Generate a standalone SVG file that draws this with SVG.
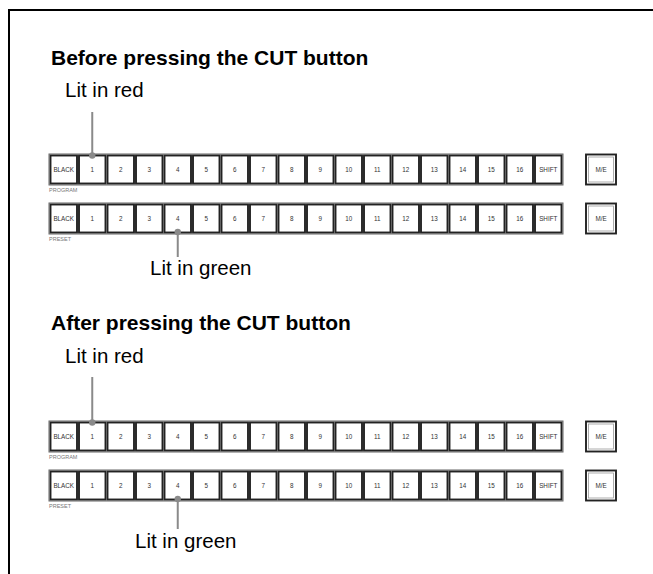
<svg xmlns="http://www.w3.org/2000/svg" width="653" height="574" viewBox="0 0 653 574">
<style>
.frame{fill:none;stroke:#000;stroke-width:2}
.row{fill:#fff;stroke:#666;stroke-width:1}
.btn{fill:#fff;stroke:#222;stroke-width:1.9}
.me-in{fill:none;stroke:#999;stroke-width:0.8}
.bl{font-family:"Liberation Sans",Arial,sans-serif;font-size:6.3px;fill:#333;text-anchor:middle}
.small{font-family:"Liberation Sans",Arial,sans-serif;font-size:5.5px;fill:#777}
.head{font-family:"Liberation Sans",Arial,sans-serif;font-size:21px;font-weight:bold;fill:#000}
.lab{font-family:"Liberation Sans",Arial,sans-serif;font-size:20.5px;fill:#000}
.lead{stroke:#8a8a8a;stroke-width:2;fill:none}
.dot{fill:#8a8a8a}
</style>
<path class="frame" d="M9 574 V10 H653"/>
<text class="head" x="51" y="65">Before pressing the CUT button</text>
<text class="lab" x="65" y="97">Lit in red</text>
<text class="head" x="51" y="330">After pressing the CUT button</text>
<text class="lab" x="65" y="363">Lit in red</text>
<text class="lab" x="150" y="275">Lit in green</text>
<text class="lab" x="135" y="548">Lit in green</text>
<g id="rowA">
<rect class="row" x="49" y="154" width="514" height="31"/>
<rect class="btn" x="50.5" y="155.5" width="26.5" height="28"/><text class="bl" x="63.75" y="172">BLACK</text>
<rect class="btn" x="79" y="155.5" width="26.5" height="28"/><text class="bl" x="92.25" y="172">1</text>
<rect class="btn" x="107.5" y="155.5" width="26.5" height="28"/><text class="bl" x="120.75" y="172">2</text>
<rect class="btn" x="136" y="155.5" width="26.5" height="28"/><text class="bl" x="149.25" y="172">3</text>
<rect class="btn" x="164.5" y="155.5" width="26.5" height="28"/><text class="bl" x="177.75" y="172">4</text>
<rect class="btn" x="193" y="155.5" width="26.5" height="28"/><text class="bl" x="206.25" y="172">5</text>
<rect class="btn" x="221.5" y="155.5" width="26.5" height="28"/><text class="bl" x="234.75" y="172">6</text>
<rect class="btn" x="250" y="155.5" width="26.5" height="28"/><text class="bl" x="263.25" y="172">7</text>
<rect class="btn" x="278.5" y="155.5" width="26.5" height="28"/><text class="bl" x="291.75" y="172">8</text>
<rect class="btn" x="307" y="155.5" width="26.5" height="28"/><text class="bl" x="320.25" y="172">9</text>
<rect class="btn" x="335.5" y="155.5" width="26.5" height="28"/><text class="bl" x="348.75" y="172">10</text>
<rect class="btn" x="364" y="155.5" width="26.5" height="28"/><text class="bl" x="377.25" y="172">11</text>
<rect class="btn" x="392.5" y="155.5" width="26.5" height="28"/><text class="bl" x="405.75" y="172">12</text>
<rect class="btn" x="421" y="155.5" width="26.5" height="28"/><text class="bl" x="434.25" y="172">13</text>
<rect class="btn" x="449.5" y="155.5" width="26.5" height="28"/><text class="bl" x="462.75" y="172">14</text>
<rect class="btn" x="478" y="155.5" width="26.5" height="28"/><text class="bl" x="491.25" y="172">15</text>
<rect class="btn" x="506.5" y="155.5" width="26.5" height="28"/><text class="bl" x="519.75" y="172">16</text>
<rect class="btn" x="535" y="155.5" width="26.5" height="28"/><text class="bl" x="548.25" y="172">SHIFT</text>
<text class="small" x="49" y="192">PROGRAM</text>
</g>
<g id="meA"><rect class="btn" x="586" y="154.5" width="30" height="30"/><rect class="me-in" x="588.5" y="157" width="25" height="25"/><text class="bl" x="601" y="172">M/E</text></g>
<g id="rowB">
<rect class="row" x="49" y="203" width="514" height="31"/>
<rect class="btn" x="50.5" y="204.5" width="26.5" height="28"/><text class="bl" x="63.75" y="221">BLACK</text>
<rect class="btn" x="79" y="204.5" width="26.5" height="28"/><text class="bl" x="92.25" y="221">1</text>
<rect class="btn" x="107.5" y="204.5" width="26.5" height="28"/><text class="bl" x="120.75" y="221">2</text>
<rect class="btn" x="136" y="204.5" width="26.5" height="28"/><text class="bl" x="149.25" y="221">3</text>
<rect class="btn" x="164.5" y="204.5" width="26.5" height="28"/><text class="bl" x="177.75" y="221">4</text>
<rect class="btn" x="193" y="204.5" width="26.5" height="28"/><text class="bl" x="206.25" y="221">5</text>
<rect class="btn" x="221.5" y="204.5" width="26.5" height="28"/><text class="bl" x="234.75" y="221">6</text>
<rect class="btn" x="250" y="204.5" width="26.5" height="28"/><text class="bl" x="263.25" y="221">7</text>
<rect class="btn" x="278.5" y="204.5" width="26.5" height="28"/><text class="bl" x="291.75" y="221">8</text>
<rect class="btn" x="307" y="204.5" width="26.5" height="28"/><text class="bl" x="320.25" y="221">9</text>
<rect class="btn" x="335.5" y="204.5" width="26.5" height="28"/><text class="bl" x="348.75" y="221">10</text>
<rect class="btn" x="364" y="204.5" width="26.5" height="28"/><text class="bl" x="377.25" y="221">11</text>
<rect class="btn" x="392.5" y="204.5" width="26.5" height="28"/><text class="bl" x="405.75" y="221">12</text>
<rect class="btn" x="421" y="204.5" width="26.5" height="28"/><text class="bl" x="434.25" y="221">13</text>
<rect class="btn" x="449.5" y="204.5" width="26.5" height="28"/><text class="bl" x="462.75" y="221">14</text>
<rect class="btn" x="478" y="204.5" width="26.5" height="28"/><text class="bl" x="491.25" y="221">15</text>
<rect class="btn" x="506.5" y="204.5" width="26.5" height="28"/><text class="bl" x="519.75" y="221">16</text>
<rect class="btn" x="535" y="204.5" width="26.5" height="28"/><text class="bl" x="548.25" y="221">SHIFT</text>
<text class="small" x="49" y="241">PRESET</text>
</g>
<g id="meB"><rect class="btn" x="586" y="203.5" width="30" height="30"/><rect class="me-in" x="588.5" y="206" width="25" height="25"/><text class="bl" x="601" y="221">M/E</text></g>
<g id="rowC">
<rect class="row" x="49" y="421" width="514" height="31"/>
<rect class="btn" x="50.5" y="422.5" width="26.5" height="28"/><text class="bl" x="63.75" y="439">BLACK</text>
<rect class="btn" x="79" y="422.5" width="26.5" height="28"/><text class="bl" x="92.25" y="439">1</text>
<rect class="btn" x="107.5" y="422.5" width="26.5" height="28"/><text class="bl" x="120.75" y="439">2</text>
<rect class="btn" x="136" y="422.5" width="26.5" height="28"/><text class="bl" x="149.25" y="439">3</text>
<rect class="btn" x="164.5" y="422.5" width="26.5" height="28"/><text class="bl" x="177.75" y="439">4</text>
<rect class="btn" x="193" y="422.5" width="26.5" height="28"/><text class="bl" x="206.25" y="439">5</text>
<rect class="btn" x="221.5" y="422.5" width="26.5" height="28"/><text class="bl" x="234.75" y="439">6</text>
<rect class="btn" x="250" y="422.5" width="26.5" height="28"/><text class="bl" x="263.25" y="439">7</text>
<rect class="btn" x="278.5" y="422.5" width="26.5" height="28"/><text class="bl" x="291.75" y="439">8</text>
<rect class="btn" x="307" y="422.5" width="26.5" height="28"/><text class="bl" x="320.25" y="439">9</text>
<rect class="btn" x="335.5" y="422.5" width="26.5" height="28"/><text class="bl" x="348.75" y="439">10</text>
<rect class="btn" x="364" y="422.5" width="26.5" height="28"/><text class="bl" x="377.25" y="439">11</text>
<rect class="btn" x="392.5" y="422.5" width="26.5" height="28"/><text class="bl" x="405.75" y="439">12</text>
<rect class="btn" x="421" y="422.5" width="26.5" height="28"/><text class="bl" x="434.25" y="439">13</text>
<rect class="btn" x="449.5" y="422.5" width="26.5" height="28"/><text class="bl" x="462.75" y="439">14</text>
<rect class="btn" x="478" y="422.5" width="26.5" height="28"/><text class="bl" x="491.25" y="439">15</text>
<rect class="btn" x="506.5" y="422.5" width="26.5" height="28"/><text class="bl" x="519.75" y="439">16</text>
<rect class="btn" x="535" y="422.5" width="26.5" height="28"/><text class="bl" x="548.25" y="439">SHIFT</text>
<text class="small" x="49" y="459">PROGRAM</text>
</g>
<g id="meC"><rect class="btn" x="586" y="421.5" width="30" height="30"/><rect class="me-in" x="588.5" y="424" width="25" height="25"/><text class="bl" x="601" y="439">M/E</text></g>
<g id="rowD">
<rect class="row" x="49" y="470" width="514" height="31"/>
<rect class="btn" x="50.5" y="471.5" width="26.5" height="28"/><text class="bl" x="63.75" y="488">BLACK</text>
<rect class="btn" x="79" y="471.5" width="26.5" height="28"/><text class="bl" x="92.25" y="488">1</text>
<rect class="btn" x="107.5" y="471.5" width="26.5" height="28"/><text class="bl" x="120.75" y="488">2</text>
<rect class="btn" x="136" y="471.5" width="26.5" height="28"/><text class="bl" x="149.25" y="488">3</text>
<rect class="btn" x="164.5" y="471.5" width="26.5" height="28"/><text class="bl" x="177.75" y="488">4</text>
<rect class="btn" x="193" y="471.5" width="26.5" height="28"/><text class="bl" x="206.25" y="488">5</text>
<rect class="btn" x="221.5" y="471.5" width="26.5" height="28"/><text class="bl" x="234.75" y="488">6</text>
<rect class="btn" x="250" y="471.5" width="26.5" height="28"/><text class="bl" x="263.25" y="488">7</text>
<rect class="btn" x="278.5" y="471.5" width="26.5" height="28"/><text class="bl" x="291.75" y="488">8</text>
<rect class="btn" x="307" y="471.5" width="26.5" height="28"/><text class="bl" x="320.25" y="488">9</text>
<rect class="btn" x="335.5" y="471.5" width="26.5" height="28"/><text class="bl" x="348.75" y="488">10</text>
<rect class="btn" x="364" y="471.5" width="26.5" height="28"/><text class="bl" x="377.25" y="488">11</text>
<rect class="btn" x="392.5" y="471.5" width="26.5" height="28"/><text class="bl" x="405.75" y="488">12</text>
<rect class="btn" x="421" y="471.5" width="26.5" height="28"/><text class="bl" x="434.25" y="488">13</text>
<rect class="btn" x="449.5" y="471.5" width="26.5" height="28"/><text class="bl" x="462.75" y="488">14</text>
<rect class="btn" x="478" y="471.5" width="26.5" height="28"/><text class="bl" x="491.25" y="488">15</text>
<rect class="btn" x="506.5" y="471.5" width="26.5" height="28"/><text class="bl" x="519.75" y="488">16</text>
<rect class="btn" x="535" y="471.5" width="26.5" height="28"/><text class="bl" x="548.25" y="488">SHIFT</text>
<text class="small" x="49" y="508">PRESET</text>
</g>
<g id="meD"><rect class="btn" x="586" y="470.5" width="30" height="30"/><rect class="me-in" x="588.5" y="473" width="25" height="25"/><text class="bl" x="601" y="488">M/E</text></g>
<g id="connectors">
<line class="lead" x1="92.25" y1="112" x2="92.25" y2="155"/><circle class="dot" cx="92.25" cy="155.5" r="3.2"/>
<line class="lead" x1="177.75" y1="232" x2="177.75" y2="257"/><circle class="dot" cx="177.75" cy="232" r="3.2"/>
<line class="lead" x1="92.25" y1="377" x2="92.25" y2="422"/><circle class="dot" cx="92.25" cy="422.5" r="3.2"/>
<line class="lead" x1="177.75" y1="499" x2="177.75" y2="529"/><circle class="dot" cx="177.75" cy="499" r="3.2"/>
</g>
</svg>
